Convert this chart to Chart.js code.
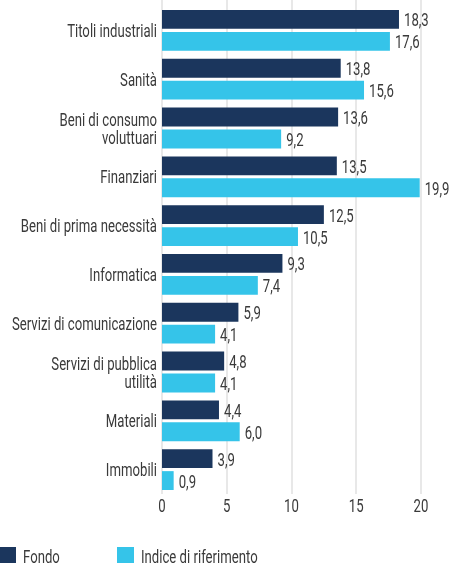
<!DOCTYPE html>
<html><head><meta charset="utf-8">
<script src="https://cdn.jsdelivr.net/npm/chart.js@4"></script>
<style>
body{margin:0;background:#fff;width:451px;height:565px;overflow:hidden;}
#wrap{position:absolute;left:0;top:0;width:451px;height:565px;}
</style></head>
<body>
<div id="wrap"><canvas id="c"></canvas></div>
<script>
const categories = ["Titoli industriali","Sanità",["Beni di consumo","voluttuari"],"Finanziari","Beni di prima necessità","Informatica","Servizi di comunicazione",["Servizi di pubblica","utilità"],"Materiali","Immobili"];
const fondo = [18.3,13.8,13.6,13.5,12.5,9.3,5.9,4.8,4.4,3.9];
const indice = [17.6,15.6,9.2,19.9,10.5,7.4,4.1,4.1,6.0,0.9];
const xTicks = [0,5,10,15,20];
const seriesNames = ["Fondo","Indice di riferimento"];
const seriesColors = ["#1b365d","#35c4e9"];

const FONT = '400 19px Roboto, "DejaVu Sans", sans-serif';
const TEXT = '#3a3a3a';
let SX = 0.78;

function txt(ctx, s, x, y, align){
  ctx.save();
  ctx.translate(x, y);
  ctx.scale(SX, 1);
  ctx.textAlign = align;
  ctx.textBaseline = 'alphabetic';
  ctx.fillText(s, 0, 0);
  ctx.restore();
}

const gridPlugin = {
  id:'gridPlugin',
  beforeDatasetsDraw(chart){
    const ctx = chart.ctx, xs = chart.scales.x, ca = chart.chartArea;
    ctx.save();
    ctx.strokeStyle = '#e8e8e8';
    ctx.lineWidth = 2;
    xTicks.forEach(v=>{
      const x = Math.round(xs.getPixelForValue(v));
      ctx.beginPath();
      ctx.moveTo(x, 0);
      ctx.lineTo(x, ca.bottom);
      ctx.stroke();
    });
    ctx.restore();
  }
};

const textPlugin = {
  id:'textPlugin',
  afterDraw(chart){
    const ctx = chart.ctx;
    ctx.save();
    ctx.font = FONT;
    ctx.fillStyle = TEXT;
    SX = 145 / ctx.measureText('Servizi di comunicazione').width;
    const ys = chart.scales.y, xs = chart.scales.x, ca = chart.chartArea;
    chart.data.labels.forEach((lab,i)=>{
      const lines = Array.isArray(lab) ? lab : [lab];
      const c = ys.getPixelForTick(i);
      lines.forEach((ln,k)=>{
        txt(ctx, ln, ca.left - 5, c + 6.5 + (k - (lines.length-1)/2)*18, 'right');
      });
    });
    chart.data.datasets.forEach((ds,i)=>{
      chart.getDatasetMeta(i).data.forEach((bar,j)=>{
        txt(ctx, ds.data[j].toFixed(1).replace('.',','), bar.x + 5, bar.y + 7, 'left');
      });
    });
    xTicks.forEach(v=>{
      txt(ctx, String(v), xs.getPixelForValue(v), ca.bottom + 18, 'center');
    });
    const lxs = [0, 117];
    chart.data.datasets.forEach((ds,i)=>{
      const x0 = lxs[i];
      ctx.fillStyle = ds.backgroundColor;
      ctx.fillRect(x0, 547, i===0?16:17, 16);
      ctx.fillStyle = TEXT;
      txt(ctx, ds.label, x0 + (i===0?23:24), 562.5, 'left');
    });
    ctx.restore();
  }
};

new Chart(document.getElementById('c'), {
  type:'bar',
  data:{
    labels:categories,
    datasets:[
      {label:seriesNames[0], data:fondo, backgroundColor:seriesColors[0]},
      {label:seriesNames[1], data:indice, backgroundColor:seriesColors[1]}
    ]
  },
  options:{
    indexAxis:'y',
    responsive:true,
    maintainAspectRatio:false,
    animation:false,
    barPercentage:0.86,
    categoryPercentage:0.9,
    layout:{padding:{top:6,right:30,left:162,bottom:71}},
    plugins:{legend:{display:false},tooltip:{enabled:false}},
    scales:{
      x:{
        display:false,
        min:0,max:20,
        afterBuildTicks(s){ s.ticks = xTicks.map(v=>({value:v})); }
      },
      y:{
        display:false
      }
    }
  },
  plugins:[gridPlugin, textPlugin]
});
</script>
</body></html>
